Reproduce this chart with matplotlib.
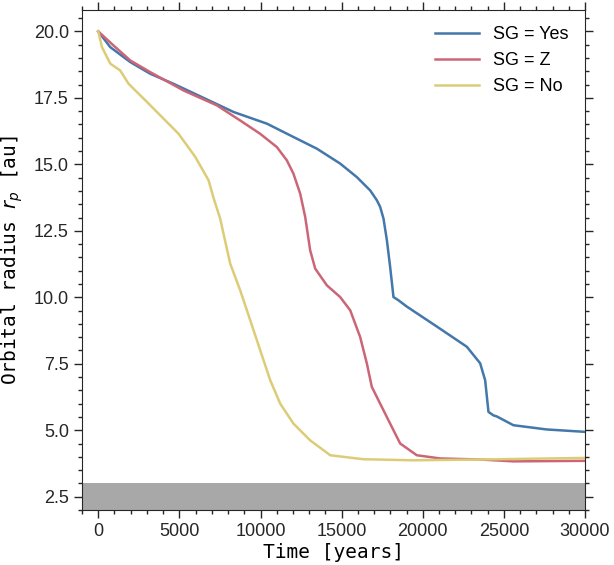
import matplotlib
matplotlib.use("Agg")
import matplotlib.pyplot as plt
from matplotlib.ticker import MultipleLocator, FormatStrFormatter

# SG = Yes
t_yes = [0, 740, 1970, 3200, 4640, 6285, 8340, 10400, 12030, 13475, 14910, 15940,
         16760, 17170, 17375, 17580, 17790, 17990, 18195, 18500, 19020, 20869,
         22717, 23537, 23845, 24050, 24355, 24563, 25585, 27640, 30000]
r_yes = [20.0, 19.41, 18.85, 18.41, 18.03, 17.56, 16.97, 16.53, 16.03, 15.59, 15.03, 14.52,
         14.02, 13.65, 13.40, 12.96, 12.14, 11.14, 10.01, 9.89, 9.65, 8.90,
         8.14, 7.52, 6.88, 5.69, 5.56, 5.52, 5.19, 5.03, 4.94]

# SG = Z
t_z = [0, 945, 1970, 3200, 5255, 7310, 8750, 9980, 11010, 11625, 12030, 12445, 12755,
       13060, 13370, 14090, 14910, 15530, 16140, 16555, 16860, 17375, 17580, 18195,
       18610, 19635, 21070, 23535, 25585, 30000]
r_z = [20.0, 19.47, 18.91, 18.47, 17.78, 17.22, 16.65, 16.15, 15.65, 15.15, 14.65, 13.90, 13.02,
       11.77, 11.08, 10.45, 10.01, 9.51, 8.51, 7.51, 6.63, 6.00, 5.75, 5.00,
       4.50, 4.06, 3.94, 3.90, 3.83, 3.85]

# SG = No
t_no = [0, 228, 740, 1355, 1870, 2900, 3925, 4950, 5980, 6800, 7105, 7515, 7720, 8130,
        8750, 9365, 9980, 10600, 11215, 12030, 13060, 13880, 14295, 16345, 19430,
        23535, 30000]
r_no = [20.0, 19.41, 18.79, 18.53, 18.03, 17.41, 16.78, 16.15, 15.28, 14.40, 13.74, 12.96,
        12.39, 11.27, 10.26, 9.14, 8.01, 6.88, 6.00, 5.25, 4.62, 4.25, 4.06, 3.91, 3.87,
        3.90, 3.96]

series = [("SG = Yes", t_yes, r_yes, "#4477AA"),
          ("SG = Z", t_z, r_z, "#CC6677"),
          ("SG = No", t_no, r_no, "#DDCC77")]

plt.rcParams['font.family'] = ['Liberation Sans', 'DejaVu Sans']
plt.rcParams['axes.edgecolor'] = '#262626'
plt.rcParams['xtick.color'] = '#262626'
plt.rcParams['ytick.color'] = '#262626'

fig = plt.figure(figsize=(6.14, 5.65), dpi=100)
ax = fig.add_axes([0.1336, 0.0973, 0.8192, 0.8847])

ax.axhspan(2.0, 3.0, color='#a8a8a8', lw=0, zorder=0)
for label, t, r, c in series:
    ax.plot(t, r, color=c, lw=1.8, label=label)

ax.set_xlim(-1000, 30000)
ax.set_ylim(2.0, 20.8)
ax.xaxis.set_major_locator(MultipleLocator(5000))
ax.xaxis.set_minor_locator(MultipleLocator(1000))
ax.yaxis.set_major_locator(MultipleLocator(2.5))
ax.yaxis.set_minor_locator(MultipleLocator(0.5))
ax.yaxis.set_major_formatter(FormatStrFormatter('%.1f'))
ax.tick_params(which='both', top=True, right=True, direction='out', width=1)
ax.tick_params(which='major', length=6, labelsize=13)
ax.tick_params(which='minor', length=3)

mono = {'family': 'DejaVu Sans Mono', 'size': 14}
ax.set_xlabel('Time [years]', fontdict=mono, labelpad=2)
ax.set_ylabel('Orbital radius $r_p$ [au]', fontdict=mono, labelpad=6)

ax.legend(loc='upper right', frameon=False, fontsize=13, handlelength=2.4)

fig.savefig('out.png', dpi=100)
